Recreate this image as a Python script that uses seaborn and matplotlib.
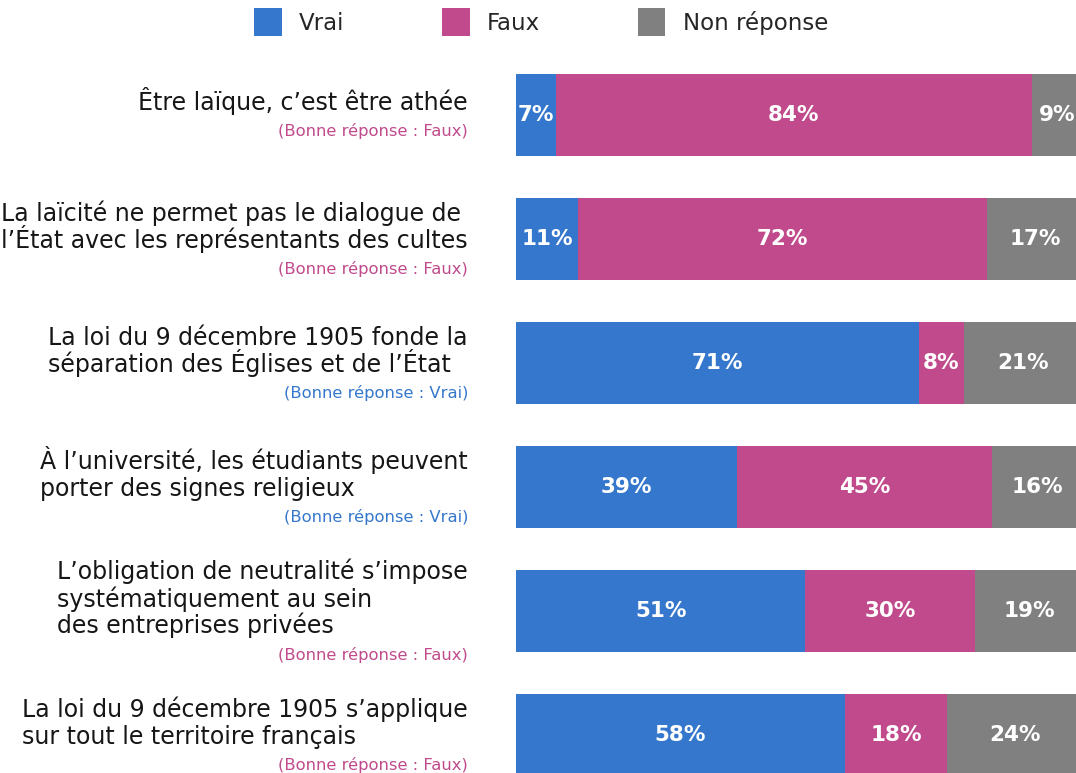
import matplotlib
matplotlib.use("Agg")
import matplotlib.pyplot as plt
from matplotlib.patches import Patch
import seaborn as sns
import pandas as pd

questions = [
    "Être laïque, c’est être athée",
    "La laïcité ne permet pas le dialogue de\nl’État avec les représentants des cultes",
    "La loi du 9 décembre 1905 fonde la\nséparation des Églises et de l’État",
    "À l’université, les étudiants peuvent\nporter des signes religieux",
    "L’obligation de neutralité s’impose\nsystématiquement au sein\ndes entreprises privées",
    "La loi du 9 décembre 1905 s’applique\nsur tout le territoire français",
]
answers = ["Faux", "Faux", "Vrai", "Vrai", "Faux", "Faux"]
vrai = [7, 11, 71, 39, 51, 58]
faux = [84, 72, 8, 45, 30, 18]
nonrep = [9, 17, 21, 16, 19, 24]
series = ["Vrai", "Faux", "Non réponse"]
colors = {"Vrai": "#3477CC", "Faux": "#C04A8B", "Non réponse": "#808080"}

sns.set_theme(style="white")
plt.rcParams["font.family"] = ["DejaVu Sans"]

df = pd.DataFrame({"q": questions, "Vrai": vrai, "Faux": faux, "Non réponse": nonrep})
df["c1"] = df["Vrai"]
df["c2"] = df["Vrai"] + df["Faux"]
df["c3"] = df["c2"] + df["Non réponse"]

W, H = 1076, 773
fig = plt.figure(figsize=(W / 100, H / 100), dpi=100)
ax = fig.add_axes([516 / W, (773 - 797) / H, 567 / W, 744 / H])

bw = 0.661
for col, name in [("c3", "Non réponse"), ("c2", "Faux"), ("c1", "Vrai")]:
    sns.barplot(data=df, y="q", x=col, orient="y", color=colors[name],
                width=bw, ax=ax, saturation=1, linewidth=0)

ax.set_xlim(0, 100)
ax.set_ylim(5.5, -0.5)
ax.set_xlabel("")
ax.set_ylabel("")
ax.set_xticks([])
ax.set_yticks([])
for s in ax.spines.values():
    s.set_visible(False)

# percentage labels
for i in range(len(questions)):
    starts = [0, vrai[i], vrai[i] + faux[i]]
    vals = [vrai[i], faux[i], nonrep[i]]
    for st, v in zip(starts, vals):
        ax.text(st + v / 2, i, f"{v}%", ha="center", va="center",
                color="white", fontsize=15.5, fontweight="bold")

# question labels: each line separately, block right edge fixed, lines left-aligned
RIGHT = -48
blocks = []
for i, (q, a) in enumerate(zip(questions, answers)):
    lines = q.split("\n")
    n = len(lines)
    anns = []
    for k, line in enumerate(lines):
        yoff = -(-4.5 - 13.5 * (n - 1) + 27 * k)
        t = ax.annotate(line, xy=(0, i), xycoords=("axes fraction", "data"),
                        xytext=(RIGHT, yoff), textcoords="offset pixels",
                        ha="left", va="baseline", fontsize=17, color="#161616")
        anns.append(t)
    blocks.append(anns)
    ax.annotate(f"(Bonne réponse : {a})", xy=(0, i), xycoords=("axes fraction", "data"),
                xytext=(RIGHT, -(14 * n + 7)), textcoords="offset pixels",
                ha="right", va="baseline", fontsize=11.8, color=colors[a])

fig.canvas.draw()
r = fig.canvas.get_renderer()
for anns in blocks:
    wmax = max(t.get_window_extent(r).width for t in anns)
    for t in anns:
        x, y = t.xyann
        t.xyann = (RIGHT - wmax, y)

handles = [Patch(facecolor=colors[s], edgecolor="none", label=s) for s in series]
fig.legend(handles=handles, loc="center", bbox_to_anchor=(541 / W, 1 - 22 / H),
           ncol=3, frameon=False, fontsize=16.5, handlelength=1.22, handleheight=1.5,
           handletextpad=0.75, columnspacing=4.25)

fig.savefig("out.png", dpi=100)
